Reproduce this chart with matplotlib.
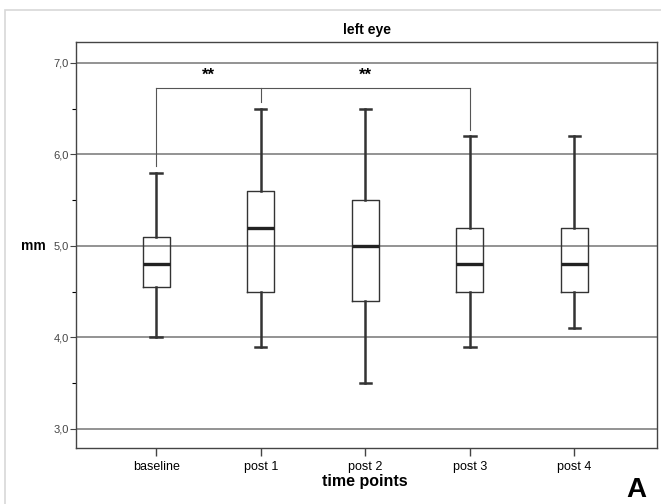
import numpy as np
import matplotlib
matplotlib.use("Agg")
import matplotlib.pyplot as plt
from matplotlib.ticker import FuncFormatter, MultipleLocator
from matplotlib.patches import Rectangle

plt.rcParams['font.family'] = ['Liberation Sans', 'DejaVu Sans']

# values (mm)
labels = ["baseline", "post 1", "post 2", "post 3", "post 4"]
whislo = [4.0, 3.9, 3.5, 3.9, 4.1]
q1 = [4.55, 4.5, 4.4, 4.5, 4.5]
med = [4.8, 5.2, 5.0, 4.8, 4.8]
q3 = [5.1, 5.6, 5.5, 5.2, 5.2]
whishi = [5.8, 6.5, 6.5, 6.2, 6.2]

# significance bracket: baseline vs post 1 / post 3
bracket_y = 6.73
bracket_ends = [(1, 5.87), (2, 6.57), (4, 6.27)]
star_x = [1.5, 3.0]
star_y = 6.78

stats = []
for i in range(len(labels)):
    stats.append(dict(label=labels[i], whislo=whislo[i], q1=q1[i], med=med[i],
                      q3=q3[i], whishi=whishi[i], fliers=[]))

fig = plt.figure(figsize=(6.61, 5.04), dpi=100)
fig.patches.append(Rectangle((0.008, -0.01), 1.0, 0.99, transform=fig.transFigure,
                             fill=False, edgecolor='#d8d8d8', lw=1.2))
ax = fig.add_axes([0.115, 0.111, 0.879, 0.806])

pos = np.arange(1, len(labels) + 1)
ax.bxp(stats, positions=pos, widths=0.26, showfliers=False,
       boxprops=dict(color='#333333', lw=1.0),
       whiskerprops=dict(color='#333333', lw=1.8),
       capprops=dict(color='#333333', lw=1.8),
       medianprops=dict(color='#222222', lw=2.4),
       capwidths=0.11)

for v in [3, 4, 5, 6, 7]:
    ax.axhline(v, color='#8a8a8a', lw=1.3, zorder=0)

# bracket
xs = [b[0] for b in bracket_ends]
ax.plot([min(xs), max(xs)], [bracket_y, bracket_y], color='#555555', lw=0.8)
for x, yb in bracket_ends:
    ax.plot([x, x], [bracket_y, yb], color='#555555', lw=0.8)
for x in star_x:
    ax.text(x, star_y, "**", ha='center', va='bottom', fontsize=12, fontweight='bold')

ax.set_xlim(0.234, 5.79)
ax.set_ylim(2.79, 7.23)
ax.set_xticks(pos)
ax.set_xticklabels(labels, fontsize=9)
ax.yaxis.set_major_locator(MultipleLocator(1.0))
ax.yaxis.set_minor_locator(MultipleLocator(0.5))
ax.yaxis.set_major_formatter(FuncFormatter(lambda v, p: f"{v:.1f}".replace('.', ',')))
ax.tick_params(axis='y', labelsize=8, colors='#444444', length=4, width=0.8, pad=1)
ax.tick_params(axis='y', which='minor', length=3, width=0.8)
ax.tick_params(axis='x', length=6, width=1.0, colors='#444444', pad=3)
for lab in ax.get_xticklabels():
    lab.set_color('black')
for s in ax.spines.values():
    s.set_color('#444444')
    s.set_linewidth(1.0)

fig.text(0.5545, 0.94, "left eye", ha='center', va='center', fontsize=10, fontweight='bold')
fig.text(0.05, 0.512, "mm", ha='center', va='center', fontsize=10, fontweight='bold')
fig.text(0.552, 0.045, "time points", ha='center', va='center', fontsize=11.5, fontweight='bold')
fig.text(0.963, 0.028, "A", ha='center', va='center', fontsize=20, fontweight='bold')

fig.savefig("out.png", dpi=100)
